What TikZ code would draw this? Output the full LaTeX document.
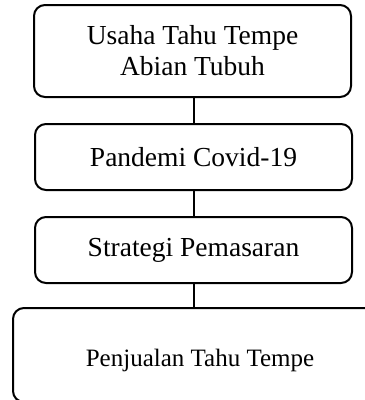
\documentclass[tikz,border=0pt]{standalone}
\usepackage{fontspec}
\setmainfont{Liberation Serif}
\begin{document}
\begin{tikzpicture}[x=1pt,y=-1pt,
  box/.style={draw=black, line width=2pt, rounded corners=11pt, align=center,
    inner sep=0pt, font=\fontsize{27.5}{31}\selectfont},
  link/.style={draw=black, line width=2.2pt}]
\useasboundingbox (0,0) rectangle (365,400);
\clip (0,0) rectangle (365,400);
\node[box, minimum width=317pt, minimum height=92pt] (b1) at (192.5,51) {Usaha Tahu Tempe\\Abian Tubuh};
\node[box, minimum width=317pt, minimum height=66pt] (b2) at (193.5,157) {Pandemi Covid-19};
\node[box, minimum width=317pt, minimum height=66pt] (b3) at (193.5,250) {Strategi Pemasaran};
\node[box, minimum width=374pt, minimum height=94pt, font=\fontsize{25}{29}\selectfont,
  text height=22pt, text depth=0pt] (b4) at (200,355) {Penjualan Tahu Tempe};
\draw[link] ([xshift=0.5pt]b2.north) -- ([xshift=0.5pt]b2.north |- b1.south);
\draw[link] ([xshift=0.5pt]b3.north) -- ([xshift=0.5pt]b3.north |- b2.south);
\draw[link] ([xshift=0.5pt]b3.south) -- ([xshift=0.5pt]b3.south |- b4.north);
\end{tikzpicture}
\end{document}
